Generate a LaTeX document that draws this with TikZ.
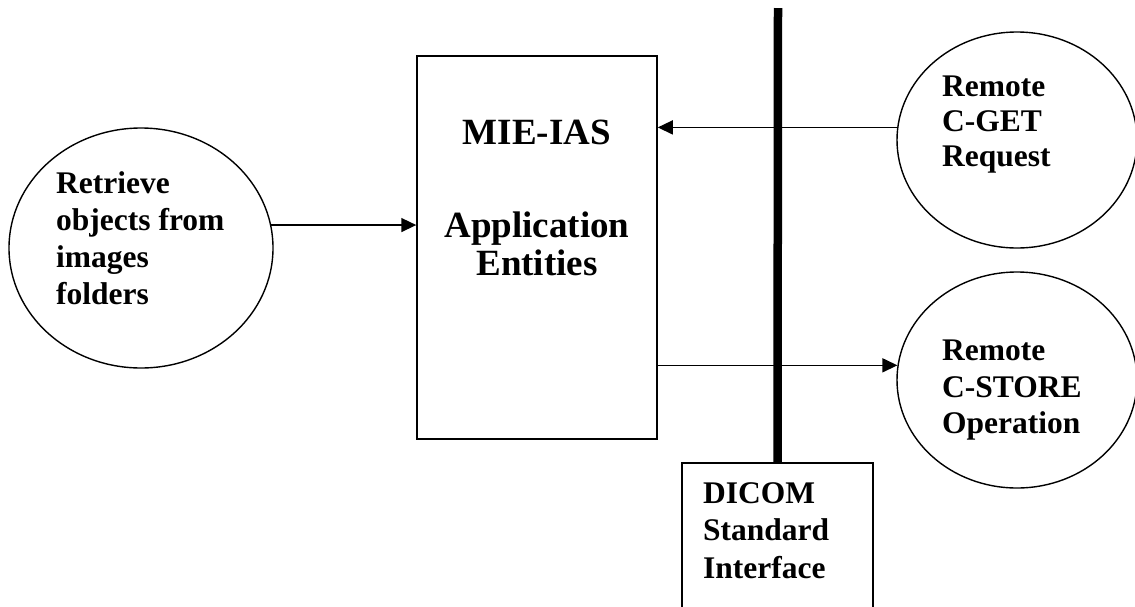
\documentclass[tikz,border=0pt]{standalone}
\usepackage{fontspec}
\setmainfont{Liberation Serif}
\usetikzlibrary{shapes.geometric,arrows.meta}
\tikzset{
  oval/.style={draw, ellipse, line width=1.4pt, inner sep=0pt},
  boxshape/.style={draw, rectangle, line width=1.5pt, inner sep=0pt},
  lbl/.style={inner sep=0pt, font=\fontsize{31.5}{36}\selectfont\bfseries},
  biglbl/.style={inner sep=0pt, font=\fontsize{37}{42}\selectfont\bfseries},
  arr/.style={line width=1.5pt, -{Triangle[length=15pt,width=14pt]}},
  bus/.style={line width=8.5pt},
}
\begin{document}
\begin{tikzpicture}[x=1pt,y=-1pt]
\useasboundingbox (0,0) rectangle (1135,606);
% shapes
\node[oval, minimum width=264pt, minimum height=240pt] (retr) at (141,248) {};
\node[boxshape, minimum width=240pt, minimum height=383pt] (mie) at (537,247.5) {};
\node[oval, minimum width=240pt, minimum height=216pt] (cget) at (1017,140) {};
\node[oval, minimum width=240pt, minimum height=216pt] (cstore) at (1017,380) {};
\node[boxshape, minimum width=191pt, minimum height=160pt] (dicom) at (777.5,543) {};
\coordinate (bustop) at (778,8);
% texts
\node[lbl, anchor=base west] (t1) at (56,193) {Retrieve};
\node[lbl, anchor=base west] (t2) at (56,230) {objects from};
\node[lbl, anchor=base west] (t3) at (56,267) {images};
\node[lbl, anchor=base west] (t4) at (56,304) {folders};
\node[biglbl, anchor=base] (m1) at (537,144) {MIE-IAS};
\node[biglbl, anchor=base] (m2) at (537,237) {Application};
\node[biglbl, anchor=base] (m3) at (537,275) {Entities};
\node[lbl, anchor=base west] (g1) at (942,96) {Remote};
\node[lbl, anchor=base west] (g2) at (942,131) {C-GET};
\node[lbl, anchor=base west] (g3) at (942,166) {Request};
\node[lbl, anchor=base west] (s1) at (942,360) {Remote};
\node[lbl, anchor=base west] (s2) at (942,397) {C-STORE};
\node[lbl, anchor=base west] (s3) at (942,433) {Operation};
\node[lbl, anchor=base west] (d1) at (703,503) {DICOM};
\node[lbl, anchor=base west] (d2) at (703,540) {Standard};
\node[lbl, anchor=base west] (d3) at (703,578) {Interface};
% connectors
\draw[bus] (bustop) -- (dicom.north);
\draw[arr] (retr.10.5) -- (retr.10.5 -| mie.west);
\draw[arr] (cget.174.3) -- (cget.174.3 -| mie.east);
\draw[arr] (cstore.173.8 -| mie.east) -- (cstore.173.8);
\end{tikzpicture}
\end{document}
